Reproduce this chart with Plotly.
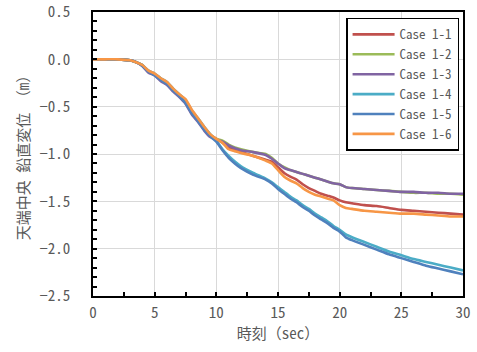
import plotly.graph_objects as go

time_sec = [0, 1, 2, 3, 3.5, 4, 4.5, 5, 5.5, 6, 6.5, 7, 7.5, 8, 8.5, 9, 9.5, 10, 10.5, 11, 11.5,
            12, 13, 14, 14.5, 15, 15.5, 16, 16.5, 17, 17.5, 18, 18.5, 19, 19.5, 20, 20.5, 21,
            22, 23, 24, 25, 26, 27, 28, 29, 30]

case_1_1 = [0, 0, 0, -0.01, -0.03, -0.06, -0.13, -0.16, -0.21, -0.25, -0.32, -0.38, -0.44, -0.55,
            -0.63, -0.72, -0.80, -0.84, -0.88, -0.93, -0.96, -0.98, -1.02, -1.06, -1.08, -1.14,
            -1.20, -1.24, -1.27, -1.32, -1.36, -1.39, -1.42, -1.44, -1.46, -1.49, -1.51, -1.52,
            -1.54, -1.55, -1.57, -1.59, -1.60, -1.61, -1.62, -1.63, -1.64]
case_1_2 = [0, 0, 0, -0.01, -0.03, -0.06, -0.13, -0.16, -0.21, -0.25, -0.32, -0.38, -0.44, -0.55,
            -0.63, -0.72, -0.80, -0.84, -0.86, -0.90, -0.93, -0.95, -0.98, -1.00, -1.04, -1.10,
            -1.14, -1.17, -1.19, -1.21, -1.23, -1.25, -1.27, -1.29, -1.31, -1.32, -1.35, -1.36,
            -1.37, -1.38, -1.39, -1.40, -1.41, -1.41, -1.42, -1.42, -1.43]
case_1_3 = [0, 0, 0, -0.01, -0.03, -0.07, -0.14, -0.17, -0.23, -0.27, -0.34, -0.40, -0.47, -0.58,
            -0.66, -0.75, -0.82, -0.85, -0.87, -0.91, -0.94, -0.96, -0.98, -1.01, -1.05, -1.10,
            -1.15, -1.17, -1.19, -1.21, -1.23, -1.25, -1.27, -1.29, -1.31, -1.32, -1.35, -1.36,
            -1.37, -1.38, -1.39, -1.40, -1.40, -1.41, -1.41, -1.42, -1.42]
case_1_4 = [0, 0, 0, -0.01, -0.03, -0.06, -0.12, -0.15, -0.20, -0.24, -0.31, -0.37, -0.43, -0.54,
            -0.62, -0.71, -0.79, -0.86, -0.95, -1.02, -1.08, -1.13, -1.20, -1.26, -1.30, -1.35,
            -1.40, -1.45, -1.49, -1.54, -1.58, -1.63, -1.67, -1.71, -1.76, -1.80, -1.85, -1.88,
            -1.93, -1.98, -2.03, -2.07, -2.11, -2.14, -2.17, -2.20, -2.23]
case_1_5 = [0, 0, 0, -0.01, -0.03, -0.07, -0.13, -0.17, -0.22, -0.26, -0.33, -0.39, -0.46, -0.57,
            -0.65, -0.74, -0.81, -0.87, -0.96, -1.04, -1.10, -1.15, -1.22, -1.27, -1.31, -1.37,
            -1.42, -1.47, -1.51, -1.56, -1.60, -1.65, -1.69, -1.73, -1.78, -1.82, -1.88, -1.91,
            -1.96, -2.01, -2.06, -2.10, -2.14, -2.18, -2.21, -2.24, -2.27]
case_1_6 = [0, 0, 0, -0.01, -0.03, -0.06, -0.12, -0.15, -0.20, -0.24, -0.31, -0.37, -0.42, -0.53,
            -0.62, -0.71, -0.79, -0.84, -0.88, -0.95, -0.97, -0.99, -1.02, -1.07, -1.10, -1.17,
            -1.24, -1.28, -1.31, -1.36, -1.40, -1.43, -1.45, -1.47, -1.49, -1.54, -1.57, -1.58,
            -1.60, -1.61, -1.62, -1.63, -1.63, -1.64, -1.65, -1.66, -1.66]

series_names = ["Case 1-1", "Case 1-2", "Case 1-3", "Case 1-4", "Case 1-5", "Case 1-6"]
series_values = [case_1_1, case_1_2, case_1_3, case_1_4, case_1_5, case_1_6]
series_colors = ["#C0504D", "#9BBB59", "#8064A2", "#4BACC6", "#4F81BD", "#F79646"]

FONT = "Noto Sans Mono CJK JP, Liberation Mono, Noto Sans CJK JP, monospace"
TEXT = "#595959"

fig = go.Figure()
for name, vals, col in zip(series_names, series_values, series_colors):
    fig.add_trace(go.Scatter(x=time_sec, y=vals, mode="lines", name=name,
                             line=dict(color=col, width=2.6, shape="spline", smoothing=0.6)))

axis_common = dict(showline=True, linecolor="black", linewidth=1.5, mirror=True,
                   showgrid=True, gridcolor="#D9D9D9", gridwidth=1, zeroline=False,
                   ticks="inside", ticklen=4, tickcolor="black", tickwidth=1.5,
                   automargin=False, ticklabeloverflow="allow",
                   tickfont=dict(family=FONT, size=15, color=TEXT))

fig.update_xaxes(range=[0, 30], dtick=5, tick0=0, ticklabelstandoff=2,
                 minor=dict(dtick=2.5, ticks="inside", ticklen=4, tickcolor="black", showgrid=False),
                 title=dict(text="時刻（sec）", font=dict(family=FONT, size=15, color=TEXT), standoff=0),
                 **axis_common)
fig.update_yaxes(range=[-2.5, 0.5], dtick=0.5, tick0=0, tickformat=".1f", ticklabelstandoff=18,
                 minor=dict(dtick=0.1, ticks="inside", ticklen=4, tickcolor="black", showgrid=False),
                 title=dict(text="天端中央 鉛直変位 （m）", font=dict(family=FONT, size=15, color=TEXT), standoff=6),
                 **axis_common)

fig.update_layout(
    width=477, height=352,
    margin=dict(l=93, r=14, t=12, b=56),
    paper_bgcolor="white", plot_bgcolor="white",
    font=dict(family=FONT, size=14, color=TEXT),
    showlegend=True,
    legend=dict(x=0.684, y=0.979, xanchor="left", yanchor="top",
                bgcolor="white", bordercolor="black", borderwidth=1.5,
                font=dict(family=FONT, size=13, color=TEXT),
                itemwidth=42, tracegroupgap=0),
)

fig.write_html("out.html", config={"displayModeBar": False},
               post_script="document.body.style.margin='0';document.body.style.padding='0';document.body.style.overflow='hidden';")
